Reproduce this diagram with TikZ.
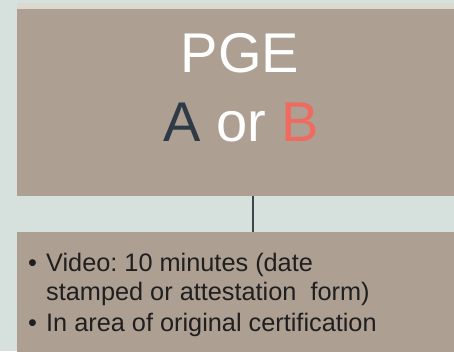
\documentclass[tikz,border=0pt]{standalone}
\usepackage{fontspec}
\setmainfont{Liberation Sans}
\frenchspacing
\definecolor{bgc}{HTML}{D6E0DC}
\definecolor{stripc}{HTML}{DCDAD0}
\definecolor{boxc}{HTML}{AE9F93}
\definecolor{linec}{HTML}{3C474C}
\definecolor{darkA}{HTML}{2E3A45}
\definecolor{redB}{HTML}{F06A60}
\begin{document}
\begin{tikzpicture}[x=1pt,y=1pt,
  panel/.style={fill=boxc, draw=none, rectangle, inner sep=0pt, anchor=north west},
  bigtxt/.style={anchor=base, inner sep=0pt, font=\fontsize{56}{60}\selectfont},
  smalltxt/.style={anchor=base west, inner sep=0pt, text=black!88, font=\fontsize{25.3}{28}\selectfont},
  conn/.style={draw=linec, line width=2.4pt}]
\useasboundingbox (0,0) rectangle (454,351);
\clip (0,0) rectangle (454,351);
\fill[bgc] (0,0) rectangle (454,351);
\fill[stripc] (17,342) rectangle (454,348);
\node[panel, minimum width=472pt, minimum height=187pt] (top) at (17,342) {};
\node[panel, minimum width=472pt, minimum height=125pt] (bottom) at (17,119) {};
\draw[conn] (top.south) -- (bottom.north);
\node[bigtxt, text=white] (title) at (240,278) {PGE};
\node[bigtxt] (choice) at (241,209) {\textcolor{darkA}{A} \textcolor{white}{or} \textcolor{redB}{B}};
\node[smalltxt] (b1) at (28,80) {•};
\node[smalltxt] (l1) at (46,80) {Video: 10 minutes (date};
\node[smalltxt] (l2) at (46,51) {stamped or attestation\ \ form)};
\node[smalltxt] (b2) at (28,20) {•};
\node[smalltxt] (l3) at (46,20) {In area of original certification};
\end{tikzpicture}
\end{document}
